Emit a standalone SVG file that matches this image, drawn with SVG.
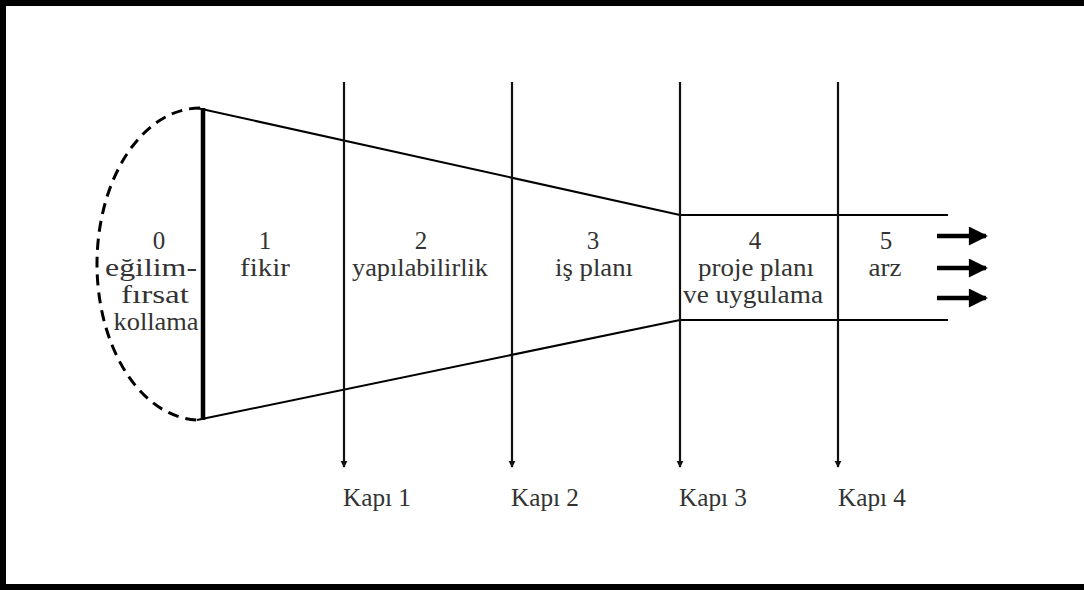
<svg xmlns="http://www.w3.org/2000/svg" width="1084" height="590" viewBox="0 0 1084 590">
<style>
.t{font-family:"Liberation Serif","Times New Roman",serif;font-size:25px;fill:#333;text-anchor:middle}
.ln{stroke:#000;stroke-width:2;fill:none}
.gate{stroke:#111;stroke-width:2.2;fill:none}
</style>
<defs>
<marker id="ah" viewBox="0 0 10 10" refX="9" refY="5" markerWidth="7" markerHeight="8" markerUnits="userSpaceOnUse" orient="auto">
<path d="M0,0 L10,5 L0,10 Z" fill="#111"/>
</marker>
<marker id="big" viewBox="0 0 10 10" refX="9" refY="5" markerWidth="20" markerHeight="19" markerUnits="userSpaceOnUse" orient="auto">
<path d="M0,0 L10,5 L0,10 Z" fill="#000"/>
</marker>
</defs>
<rect x="0" y="0" width="1084" height="590" fill="#fff"/>
<g id="frame" fill="#000">
<rect x="0" y="0" width="1084" height="6"/>
<rect x="0" y="0" width="6" height="590"/>
<rect x="0" y="584" width="1084" height="6"/>
</g>
<g id="connectors">
<path d="M200,108 A103,156 0 0 0 200,420" fill="none" stroke="#000" stroke-width="3" stroke-dasharray="11,7"/>
<line x1="203" y1="108" x2="203" y2="420" stroke="#000" stroke-width="4.5"/>
<line class="ln" x1="197" y1="108" x2="680" y2="215"/>
<line class="ln" x1="197" y1="420" x2="680" y2="320"/>
<line class="ln" x1="680" y1="215" x2="948" y2="215"/>
<line class="ln" x1="680" y1="320" x2="948" y2="320"/>
<line class="gate" x1="344" y1="82" x2="344" y2="467" marker-end="url(#ah)"/>
<line class="gate" x1="512" y1="82" x2="512" y2="467" marker-end="url(#ah)"/>
<line class="gate" x1="680" y1="82" x2="680" y2="467" marker-end="url(#ah)"/>
<line class="gate" x1="838" y1="82" x2="838" y2="467" marker-end="url(#ah)"/>
<line x1="937" y1="236" x2="986" y2="236" stroke="#000" stroke-width="4.5" marker-end="url(#big)"/>
<line x1="937" y1="268" x2="986" y2="268" stroke="#000" stroke-width="4.5" marker-end="url(#big)"/>
<line x1="937" y1="298" x2="986" y2="298" stroke="#000" stroke-width="4.5" marker-end="url(#big)"/>
</g>
<g id="stage0">
<text class="t" x="159" y="249">0</text>
<text class="t" x="151" y="276" textLength="92" lengthAdjust="spacingAndGlyphs">eğilim-</text>
<text class="t" x="155" y="303" textLength="68" lengthAdjust="spacingAndGlyphs">fırsat</text>
<text class="t" x="156" y="330" textLength="85" lengthAdjust="spacingAndGlyphs">kollama</text>
</g>
<g id="stage1">
<text class="t" x="265" y="249">1</text>
<text class="t" x="265" y="276" textLength="50" lengthAdjust="spacingAndGlyphs">fikir</text>
</g>
<g id="stage2">
<text class="t" x="421" y="249">2</text>
<text class="t" x="420" y="276" textLength="136" lengthAdjust="spacingAndGlyphs">yapılabilirlik</text>
</g>
<g id="stage3">
<text class="t" x="593" y="249">3</text>
<text class="t" x="594" y="276" textLength="78" lengthAdjust="spacingAndGlyphs">iş planı</text>
</g>
<g id="stage4">
<text class="t" x="755" y="249">4</text>
<text class="t" x="756" y="276" textLength="116" lengthAdjust="spacingAndGlyphs">proje planı</text>
<text class="t" x="753" y="303" textLength="140" lengthAdjust="spacingAndGlyphs">ve uygulama</text>
</g>
<g id="stage5">
<text class="t" x="886" y="249">5</text>
<text class="t" x="885" y="276" textLength="33" lengthAdjust="spacingAndGlyphs">arz</text>
</g>
<g id="gates">
<text class="t" x="377" y="506" textLength="68" lengthAdjust="spacingAndGlyphs">Kapı 1</text>
<text class="t" x="545" y="506" textLength="68" lengthAdjust="spacingAndGlyphs">Kapı 2</text>
<text class="t" x="713" y="506" textLength="68" lengthAdjust="spacingAndGlyphs">Kapı 3</text>
<text class="t" x="872" y="506" textLength="68" lengthAdjust="spacingAndGlyphs">Kapı 4</text>
</g>
</svg>
